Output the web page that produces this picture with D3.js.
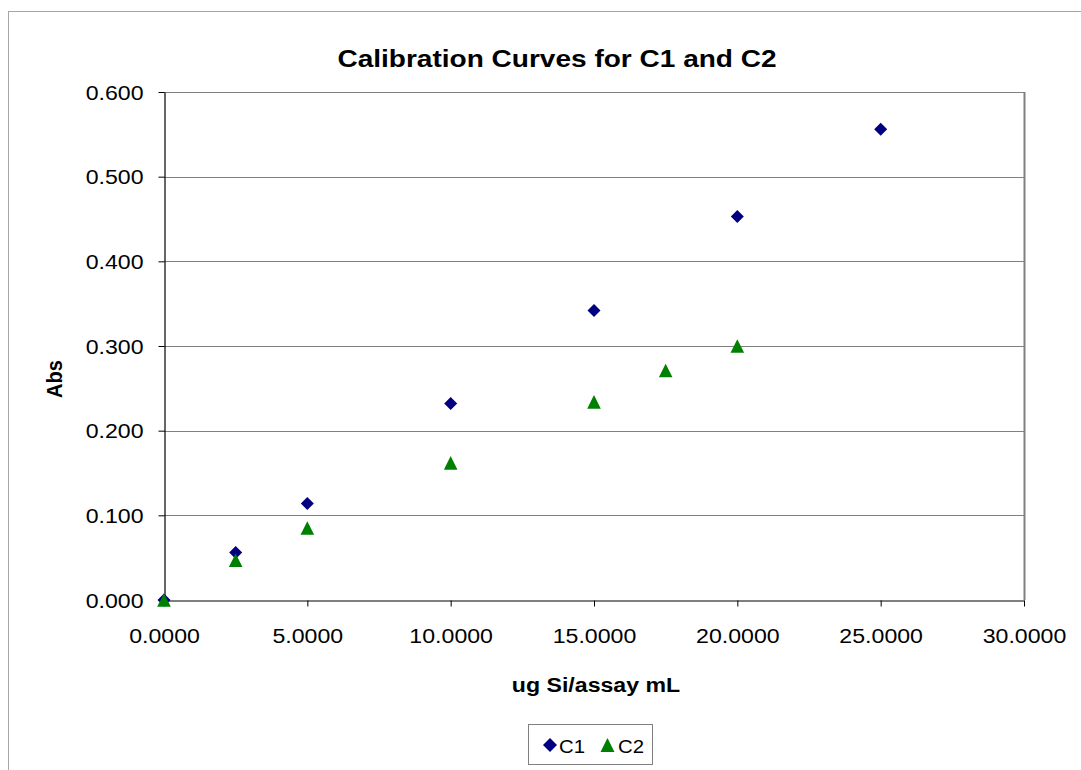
<!DOCTYPE html>
<html>
<head>
<meta charset="utf-8">
<script src="https://cdn.jsdelivr.net/npm/d3@7/dist/d3.min.js"></script>
<style>
  html, body { margin: 0; padding: 0; background: #fff; }
  svg { display: block; font-family: Arial, "Liberation Sans", sans-serif; }
</style>
</head>
<body>
<svg id="chart" width="1081" height="770"></svg>
<script>
// Calibration data: concentration (ug Si / assay mL) vs absorbance
const c1X = [0, 2.5, 5, 10, 15, 20, 25];
const c1Y = [0.000, 0.056, 0.114, 0.232, 0.342, 0.453, 0.556];
const c2X = [0, 2.5, 5, 10, 15, 17.5, 20];
const c2Y = [0.000, 0.047, 0.085, 0.162, 0.234, 0.271, 0.300];
const xTicks = [0, 5, 10, 15, 20, 25, 30];
const yTicks = [0, 0.1, 0.2, 0.3, 0.4, 0.5, 0.6];
const seriesNames = ["C1", "C2"];

const FONT = "Arial, 'Liberation Sans', sans-serif";
const WIDE = 1.14; // horizontal text stretch

const svg = d3.select("#chart");
const plot = { left: 164, top: 92, right: 1024, bottom: 600 };

const x = d3.scaleLinear().domain([0, 30]).range([plot.left, plot.right]);
const y = d3.scaleLinear().domain([0, 0.6]).range([plot.bottom, plot.top]);

// Outer chart frame
svg.append("rect")
  .attr("x", 8.5).attr("y", 11.5)
  .attr("width", 1100).attr("height", 800)
  .attr("fill", "#fff").attr("stroke", "#a6a6a6").attr("stroke-width", 1);

// Horizontal gridlines
svg.append("g")
  .selectAll("line")
  .data(yTicks.filter(v => v > 0))
  .join("line")
  .attr("x1", plot.left).attr("x2", plot.right)
  .attr("y1", d => Math.round(y(d)) + 0.5).attr("y2", d => Math.round(y(d)) + 0.5)
  .attr("stroke", "#808080").attr("stroke-width", 1);

// Plot area border (right side)
svg.append("line")
  .attr("x1", plot.right + 0.5).attr("x2", plot.right + 0.5)
  .attr("y1", plot.top).attr("y2", plot.bottom)
  .attr("stroke", "#808080").attr("stroke-width", 2);

// Y axis
const yAxis = d3.axisLeft(y)
  .tickValues(yTicks)
  .tickFormat(d3.format(".3f"))
  .tickSize(6)
  .tickSizeOuter(0);
const gy = svg.append("g")
  .attr("transform", `translate(${plot.left + 0.5},0)`)
  .call(yAxis);
gy.select(".domain").attr("stroke", "#000").attr("stroke-width", 1.2);
gy.selectAll(".tick line").attr("stroke", "#000");
gy.selectAll(".tick text")
  .attr("font-size", 20.3).attr("fill", "#000").attr("font-family", FONT)
  .attr("x", -21 / WIDE)
  .attr("dy", "0.36em")
  .attr("transform", `scale(${WIDE},1)`);

// X axis
const xAxis = d3.axisBottom(x)
  .tickValues(xTicks)
  .tickFormat(d3.format(".4f"))
  .tickSize(6)
  .tickSizeOuter(0);
const gx = svg.append("g")
  .attr("transform", `translate(0,${plot.bottom + 0.5})`)
  .call(xAxis);
gx.select(".domain").attr("stroke", "#000").attr("stroke-width", 1.2);
gx.selectAll(".tick line").attr("stroke", "#000");
gx.selectAll(".tick text")
  .attr("font-size", 20.3).attr("fill", "#000").attr("font-family", FONT)
  .attr("y", 42.5).attr("dy", 0)
  .attr("transform", `scale(${WIDE},1)`);

// Marker shapes
const diamond = s => `M0,${-s}L${s},0L0,${s}L${-s},0Z`;
const triangle = s => `M0,${-s}L${s},${s}L${-s},${s}Z`;

const c1 = c1X.map((v, i) => ({ x: v, y: c1Y[i] }));
const c2 = c2X.map((v, i) => ({ x: v, y: c2Y[i] }));

svg.append("g").selectAll("path")
  .data(c1).join("path")
  .attr("transform", d => `translate(${x(d.x)},${y(d.y)})`)
  .attr("d", diamond(6.5))
  .attr("fill", "#000080");

svg.append("g").selectAll("path")
  .data(c2).join("path")
  .attr("transform", d => `translate(${x(d.x)},${y(d.y)})`)
  .attr("d", triangle(6.8))
  .attr("fill", "#008000");

// Title
svg.append("text")
  .attr("transform", `translate(557,67) scale(${WIDE},1)`)
  .attr("text-anchor", "middle")
  .attr("font-size", 24.6).attr("font-weight", "bold")
  .text("Calibration Curves for C1 and C2");

// Axis titles
svg.append("text")
  .attr("transform", `translate(596,692) scale(${WIDE},1)`)
  .attr("text-anchor", "middle")
  .attr("font-size", 20.3).attr("font-weight", "bold")
  .text("ug Si/assay mL");

svg.append("text")
  .attr("transform", `translate(62,379) rotate(-90) scale(1,${WIDE})`)
  .attr("text-anchor", "middle")
  .attr("font-size", 20).attr("font-weight", "bold")
  .text("Abs");

// Legend
const legend = svg.append("g");
legend.append("rect")
  .attr("x", 528.5).attr("y", 724.5)
  .attr("width", 124).attr("height", 40)
  .attr("fill", "#fff").attr("stroke", "#808080");
const legendItems = [
  { name: seriesNames[0], mx: 550, tx: 559, shape: diamond(7), color: "#000080" },
  { name: seriesNames[1], mx: 607.5, tx: 618, shape: triangle(7), color: "#008000" }
];
legendItems.forEach(it => {
  legend.append("path")
    .attr("transform", `translate(${it.mx},745)`)
    .attr("d", it.shape)
    .attr("fill", it.color);
  legend.append("text")
    .attr("transform", `translate(${it.tx},753) scale(1.1,1)`)
    .attr("font-size", 18.5)
    .text(it.name);
});
</script>
</body>
</html>
